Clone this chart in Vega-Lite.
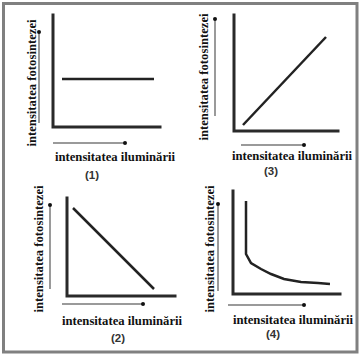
{
  "$schema": "https://vega.github.io/schema/vega-lite/v6.json",
  "width": 363,
  "height": 354,
  "autosize": {"type": "fit", "contains": "padding"},
  "padding": 0,
  "background": "#ffffff",
  "config": {"view": {"stroke": null}},
  "datasets": {
    "frame": [{"x": 3.5, "y": 3.5, "x2": 357, "y2": 352}],
    "axes": [
      {"panel": "1", "i": 0, "x": 53, "y": 15}, {"panel": "1", "i": 1, "x": 53, "y": 127}, {"panel": "1", "i": 2, "x": 160, "y": 127},
      {"panel": "3", "i": 0, "x": 234, "y": 15}, {"panel": "3", "i": 1, "x": 234, "y": 131}, {"panel": "3", "i": 2, "x": 338, "y": 131},
      {"panel": "2", "i": 0, "x": 67, "y": 198}, {"panel": "2", "i": 1, "x": 67, "y": 296}, {"panel": "2", "i": 2, "x": 175, "y": 296},
      {"panel": "4", "i": 0, "x": 233, "y": 191}, {"panel": "4", "i": 1, "x": 233, "y": 294}, {"panel": "4", "i": 2, "x": 340, "y": 294}
    ],
    "curves": [
      {"panel": "1", "i": 0, "x": 62, "y": 79}, {"panel": "1", "i": 1, "x": 154, "y": 79},
      {"panel": "3", "i": 0, "x": 243, "y": 125}, {"panel": "3", "i": 1, "x": 326, "y": 37},
      {"panel": "2", "i": 0, "x": 73, "y": 208}, {"panel": "2", "i": 1, "x": 154, "y": 289},
      {"panel": "4", "i": 0, "x": 246, "y": 201}, {"panel": "4", "i": 1, "x": 246, "y": 254},
      {"panel": "4", "i": 2, "x": 251, "y": 263}, {"panel": "4", "i": 3, "x": 261, "y": 269},
      {"panel": "4", "i": 4, "x": 271, "y": 274}, {"panel": "4", "i": 5, "x": 284, "y": 279},
      {"panel": "4", "i": 6, "x": 301, "y": 282}, {"panel": "4", "i": 7, "x": 318, "y": 283},
      {"panel": "4", "i": 8, "x": 330, "y": 284}
    ],
    "arrows": [
      {"panel": "1", "x": 39, "y": 123, "x2": 39, "y2": 32},
      {"panel": "1", "x": 53, "y": 143, "x2": 125, "y2": 143},
      {"panel": "3", "x": 215, "y": 116, "x2": 215, "y2": 19},
      {"panel": "3", "x": 241, "y": 145, "x2": 304, "y2": 145},
      {"panel": "2", "x": 50, "y": 289, "x2": 50, "y2": 205},
      {"panel": "2", "x": 62, "y": 304, "x2": 143, "y2": 304},
      {"panel": "4", "x": 218, "y": 291, "x2": 218, "y2": 204},
      {"panel": "4", "x": 228, "y": 305, "x2": 304, "y2": 305}
    ],
    "xlabels": [
      {"panel": "1", "x": 115, "y": 161, "text": "intensitatea iluminării"},
      {"panel": "3", "x": 292, "y": 160, "text": "intensitatea iluminării"},
      {"panel": "2", "x": 122, "y": 325, "text": "intensitatea iluminării"},
      {"panel": "4", "x": 293, "y": 324, "text": "intensitatea iluminării"}
    ],
    "ylabels": [
      {"panel": "1", "x": 35.5, "y": 83, "text": "intensitatea fotosintezei"},
      {"panel": "3", "x": 207.5, "y": 77, "text": "intensitatea fotosintezei"},
      {"panel": "2", "x": 43, "y": 249, "text": "intensitatea fotosintezei"},
      {"panel": "4", "x": 214, "y": 249, "text": "intensitatea fotosintezei"}
    ],
    "numbers": [
      {"x": 92, "y": 176, "text": "(1)"},
      {"x": 271, "y": 172, "text": "(3)"},
      {"x": 118, "y": 339, "text": "(2)"},
      {"x": 273, "y": 335, "text": "(4)"}
    ]
  },
  "layer": [
    {
      "data": {"name": "frame"},
      "mark": {"type": "rect", "fillOpacity": 0, "stroke": "#808080", "strokeWidth": 3},
      "encoding": {
        "x": {"field": "x", "type": "quantitative", "scale": {"domain": [0, 363], "nice": false, "zero": false}, "axis": null},
        "x2": {"field": "x2"},
        "y": {"field": "y", "type": "quantitative", "scale": {"domain": [0, 354], "nice": false, "zero": false, "reverse": true}, "axis": null},
        "y2": {"field": "y2"}
      }
    },
    {
      "data": {"name": "arrows"},
      "mark": {"type": "rule", "color": "#9a9a9a", "strokeWidth": 2},
      "encoding": {
        "x": {"field": "x", "type": "quantitative"},
        "x2": {"field": "x2"},
        "y": {"field": "y", "type": "quantitative"},
        "y2": {"field": "y2"}
      }
    },
    {
      "data": {"name": "arrows"},
      "mark": {"type": "circle", "color": "#111111", "opacity": 1, "size": 16},
      "encoding": {
        "x": {"field": "x2", "type": "quantitative"},
        "y": {"field": "y2", "type": "quantitative"}
      }
    },
    {
      "data": {"name": "axes"},
      "mark": {"type": "line", "color": "#2a2a2a", "strokeWidth": 3, "strokeCap": "square", "strokeJoin": "miter"},
      "encoding": {
        "x": {"field": "x", "type": "quantitative"},
        "y": {"field": "y", "type": "quantitative"},
        "detail": {"field": "panel"},
        "order": {"field": "i"}
      }
    },
    {
      "data": {"name": "curves"},
      "mark": {"type": "line", "color": "#222222", "strokeWidth": 2.5, "strokeCap": "butt"},
      "encoding": {
        "x": {"field": "x", "type": "quantitative"},
        "y": {"field": "y", "type": "quantitative"},
        "detail": {"field": "panel"},
        "order": {"field": "i"}
      }
    },
    {
      "data": {"name": "xlabels"},
      "mark": {"type": "text", "font": "'Liberation Serif', 'DejaVu Serif', serif", "fontWeight": "bold", "fontSize": 12.7, "color": "#111111", "align": "center", "baseline": "alphabetic"},
      "encoding": {
        "x": {"field": "x", "type": "quantitative"},
        "y": {"field": "y", "type": "quantitative"},
        "text": {"field": "text"}
      }
    },
    {
      "data": {"name": "ylabels"},
      "mark": {"type": "text", "font": "'Liberation Serif', 'DejaVu Serif', serif", "fontWeight": "bold", "fontSize": 12.7, "color": "#111111", "align": "center", "baseline": "alphabetic", "angle": 270},
      "encoding": {
        "x": {"field": "x", "type": "quantitative"},
        "y": {"field": "y", "type": "quantitative"},
        "text": {"field": "text"}
      }
    },
    {
      "data": {"name": "numbers"},
      "mark": {"type": "text", "font": "'Liberation Sans', Arial, sans-serif", "fontWeight": "bold", "fontSize": 11.5, "color": "#333333", "align": "center", "baseline": "middle"},
      "encoding": {
        "x": {"field": "x", "type": "quantitative"},
        "y": {"field": "y", "type": "quantitative"},
        "text": {"field": "text"}
      }
    }
  ]
}
